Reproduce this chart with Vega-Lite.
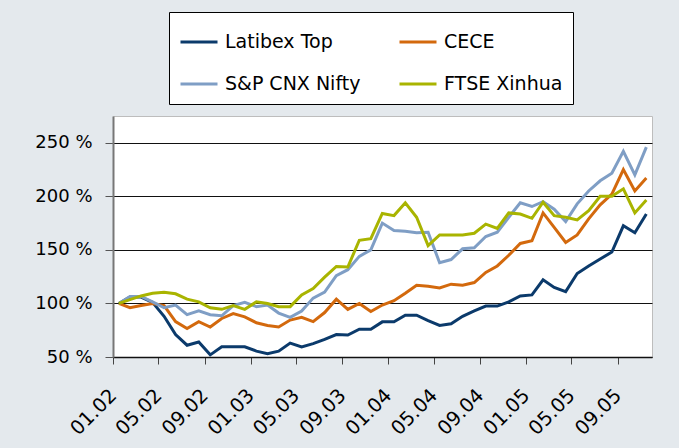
{
  "$schema": "https://vega.github.io/schema/vega-lite/v6.json",
  "width": 539,
  "height": 241,
  "autosize": {"type": "none"},
  "padding": {"left": 113, "top": 116, "right": 27, "bottom": 91},
  "background": "#E4E9ED",
  "config": {
    "view": {"fill": "white", "stroke": "#BDBDBD", "strokeWidth": 1},
    "font": "DejaVu Sans"
  },
  "data": {
    "values": [
      {"m":"2002-01-01","s":"Latibex Top","v":100},{"m":"2002-02-01","s":"Latibex Top","v":106},{"m":"2002-03-01","s":"Latibex Top","v":106},{"m":"2002-04-01","s":"Latibex Top","v":101},{"m":"2002-05-01","s":"Latibex Top","v":88},{"m":"2002-06-01","s":"Latibex Top","v":71},{"m":"2002-07-01","s":"Latibex Top","v":61},{"m":"2002-08-01","s":"Latibex Top","v":64},{"m":"2002-09-01","s":"Latibex Top","v":52},{"m":"2002-10-01","s":"Latibex Top","v":59.5},{"m":"2002-11-01","s":"Latibex Top","v":59.5},{"m":"2002-12-01","s":"Latibex Top","v":59.5},
      {"m":"2003-01-01","s":"Latibex Top","v":55.5},{"m":"2003-02-01","s":"Latibex Top","v":53},{"m":"2003-03-01","s":"Latibex Top","v":55.5},{"m":"2003-04-01","s":"Latibex Top","v":63},{"m":"2003-05-01","s":"Latibex Top","v":59.5},{"m":"2003-06-01","s":"Latibex Top","v":62.5},{"m":"2003-07-01","s":"Latibex Top","v":66.5},{"m":"2003-08-01","s":"Latibex Top","v":71},{"m":"2003-09-01","s":"Latibex Top","v":70.5},{"m":"2003-10-01","s":"Latibex Top","v":76},{"m":"2003-11-01","s":"Latibex Top","v":76},{"m":"2003-12-01","s":"Latibex Top","v":82.8},
      {"m":"2004-01-01","s":"Latibex Top","v":82.8},{"m":"2004-02-01","s":"Latibex Top","v":89},{"m":"2004-03-01","s":"Latibex Top","v":89},{"m":"2004-04-01","s":"Latibex Top","v":84},{"m":"2004-05-01","s":"Latibex Top","v":79.5},{"m":"2004-06-01","s":"Latibex Top","v":81},{"m":"2004-07-01","s":"Latibex Top","v":88},{"m":"2004-08-01","s":"Latibex Top","v":93},{"m":"2004-09-01","s":"Latibex Top","v":97.5},{"m":"2004-10-01","s":"Latibex Top","v":97.5},{"m":"2004-11-01","s":"Latibex Top","v":101.5},{"m":"2004-12-01","s":"Latibex Top","v":107},
      {"m":"2005-01-01","s":"Latibex Top","v":108},{"m":"2005-02-01","s":"Latibex Top","v":122},{"m":"2005-03-01","s":"Latibex Top","v":115},{"m":"2005-04-01","s":"Latibex Top","v":111},{"m":"2005-05-01","s":"Latibex Top","v":128},{"m":"2005-06-01","s":"Latibex Top","v":135},{"m":"2005-07-01","s":"Latibex Top","v":141.5},{"m":"2005-08-01","s":"Latibex Top","v":148},{"m":"2005-09-01","s":"Latibex Top","v":172.5},{"m":"2005-10-01","s":"Latibex Top","v":166},{"m":"2005-11-01","s":"Latibex Top","v":183.5},

      {"m":"2002-01-01","s":"CECE","v":100},{"m":"2002-02-01","s":"CECE","v":96},{"m":"2002-03-01","s":"CECE","v":98},{"m":"2002-04-01","s":"CECE","v":100},{"m":"2002-05-01","s":"CECE","v":98},{"m":"2002-06-01","s":"CECE","v":83},{"m":"2002-07-01","s":"CECE","v":76.5},{"m":"2002-08-01","s":"CECE","v":83},{"m":"2002-09-01","s":"CECE","v":78},{"m":"2002-10-01","s":"CECE","v":86},{"m":"2002-11-01","s":"CECE","v":90.5},{"m":"2002-12-01","s":"CECE","v":87.5},
      {"m":"2003-01-01","s":"CECE","v":82},{"m":"2003-02-01","s":"CECE","v":79.5},{"m":"2003-03-01","s":"CECE","v":78},{"m":"2003-04-01","s":"CECE","v":84.5},{"m":"2003-05-01","s":"CECE","v":87},{"m":"2003-06-01","s":"CECE","v":83},{"m":"2003-07-01","s":"CECE","v":91.5},{"m":"2003-08-01","s":"CECE","v":104},{"m":"2003-09-01","s":"CECE","v":94.5},{"m":"2003-10-01","s":"CECE","v":100},{"m":"2003-11-01","s":"CECE","v":92.5},{"m":"2003-12-01","s":"CECE","v":98.5},
      {"m":"2004-01-01","s":"CECE","v":102.5},{"m":"2004-02-01","s":"CECE","v":109.5},{"m":"2004-03-01","s":"CECE","v":117},{"m":"2004-04-01","s":"CECE","v":116},{"m":"2004-05-01","s":"CECE","v":114.5},{"m":"2004-06-01","s":"CECE","v":118},{"m":"2004-07-01","s":"CECE","v":117},{"m":"2004-08-01","s":"CECE","v":119.5},{"m":"2004-09-01","s":"CECE","v":129},{"m":"2004-10-01","s":"CECE","v":135},{"m":"2004-11-01","s":"CECE","v":145},{"m":"2004-12-01","s":"CECE","v":156},
      {"m":"2005-01-01","s":"CECE","v":158.5},{"m":"2005-02-01","s":"CECE","v":184.5},{"m":"2005-03-01","s":"CECE","v":171},{"m":"2005-04-01","s":"CECE","v":157},{"m":"2005-05-01","s":"CECE","v":164},{"m":"2005-06-01","s":"CECE","v":179},{"m":"2005-07-01","s":"CECE","v":192},{"m":"2005-08-01","s":"CECE","v":202},{"m":"2005-09-01","s":"CECE","v":225},{"m":"2005-10-01","s":"CECE","v":205},{"m":"2005-11-01","s":"CECE","v":217},

      {"m":"2002-01-01","s":"S&P CNX Nifty","v":100},{"m":"2002-02-01","s":"S&P CNX Nifty","v":106.5},{"m":"2002-03-01","s":"S&P CNX Nifty","v":106.5},{"m":"2002-04-01","s":"S&P CNX Nifty","v":101.5},{"m":"2002-05-01","s":"S&P CNX Nifty","v":96},{"m":"2002-06-01","s":"S&P CNX Nifty","v":98.5},{"m":"2002-07-01","s":"S&P CNX Nifty","v":89.5},{"m":"2002-08-01","s":"S&P CNX Nifty","v":93},{"m":"2002-09-01","s":"S&P CNX Nifty","v":89.5},{"m":"2002-10-01","s":"S&P CNX Nifty","v":88.5},{"m":"2002-11-01","s":"S&P CNX Nifty","v":98},{"m":"2002-12-01","s":"S&P CNX Nifty","v":101},
      {"m":"2003-01-01","s":"S&P CNX Nifty","v":97},{"m":"2003-02-01","s":"S&P CNX Nifty","v":98.5},{"m":"2003-03-01","s":"S&P CNX Nifty","v":91},{"m":"2003-04-01","s":"S&P CNX Nifty","v":87},{"m":"2003-05-01","s":"S&P CNX Nifty","v":93},{"m":"2003-06-01","s":"S&P CNX Nifty","v":105},{"m":"2003-07-01","s":"S&P CNX Nifty","v":110.5},{"m":"2003-08-01","s":"S&P CNX Nifty","v":126},{"m":"2003-09-01","s":"S&P CNX Nifty","v":131.5},{"m":"2003-10-01","s":"S&P CNX Nifty","v":144},{"m":"2003-11-01","s":"S&P CNX Nifty","v":150},{"m":"2003-12-01","s":"S&P CNX Nifty","v":175},
      {"m":"2004-01-01","s":"S&P CNX Nifty","v":168},{"m":"2004-02-01","s":"S&P CNX Nifty","v":167.5},{"m":"2004-03-01","s":"S&P CNX Nifty","v":166},{"m":"2004-04-01","s":"S&P CNX Nifty","v":166.5},{"m":"2004-05-01","s":"S&P CNX Nifty","v":138},{"m":"2004-06-01","s":"S&P CNX Nifty","v":141},{"m":"2004-07-01","s":"S&P CNX Nifty","v":151},{"m":"2004-08-01","s":"S&P CNX Nifty","v":152},{"m":"2004-09-01","s":"S&P CNX Nifty","v":162.5},{"m":"2004-10-01","s":"S&P CNX Nifty","v":166.5},{"m":"2004-11-01","s":"S&P CNX Nifty","v":180.5},{"m":"2004-12-01","s":"S&P CNX Nifty","v":194},
      {"m":"2005-01-01","s":"S&P CNX Nifty","v":190.5},{"m":"2005-02-01","s":"S&P CNX Nifty","v":195},{"m":"2005-03-01","s":"S&P CNX Nifty","v":188},{"m":"2005-04-01","s":"S&P CNX Nifty","v":176.5},{"m":"2005-05-01","s":"S&P CNX Nifty","v":193},{"m":"2005-06-01","s":"S&P CNX Nifty","v":205},{"m":"2005-07-01","s":"S&P CNX Nifty","v":214.5},{"m":"2005-08-01","s":"S&P CNX Nifty","v":221.5},{"m":"2005-09-01","s":"S&P CNX Nifty","v":242},{"m":"2005-10-01","s":"S&P CNX Nifty","v":220},{"m":"2005-11-01","s":"S&P CNX Nifty","v":246},

      {"m":"2002-01-01","s":"FTSE Xinhua","v":100},{"m":"2002-02-01","s":"FTSE Xinhua","v":103.5},{"m":"2002-03-01","s":"FTSE Xinhua","v":107},{"m":"2002-04-01","s":"FTSE Xinhua","v":109.5},{"m":"2002-05-01","s":"FTSE Xinhua","v":110.5},{"m":"2002-06-01","s":"FTSE Xinhua","v":109},{"m":"2002-07-01","s":"FTSE Xinhua","v":104},{"m":"2002-08-01","s":"FTSE Xinhua","v":101.5},{"m":"2002-09-01","s":"FTSE Xinhua","v":96},{"m":"2002-10-01","s":"FTSE Xinhua","v":94.5},{"m":"2002-11-01","s":"FTSE Xinhua","v":98},{"m":"2002-12-01","s":"FTSE Xinhua","v":94.5},
      {"m":"2003-01-01","s":"FTSE Xinhua","v":101.5},{"m":"2003-02-01","s":"FTSE Xinhua","v":100},{"m":"2003-03-01","s":"FTSE Xinhua","v":97},{"m":"2003-04-01","s":"FTSE Xinhua","v":97},{"m":"2003-05-01","s":"FTSE Xinhua","v":108},{"m":"2003-06-01","s":"FTSE Xinhua","v":114},{"m":"2003-07-01","s":"FTSE Xinhua","v":124.5},{"m":"2003-08-01","s":"FTSE Xinhua","v":134.5},{"m":"2003-09-01","s":"FTSE Xinhua","v":134},{"m":"2003-10-01","s":"FTSE Xinhua","v":159},{"m":"2003-11-01","s":"FTSE Xinhua","v":160.5},{"m":"2003-12-01","s":"FTSE Xinhua","v":184},
      {"m":"2004-01-01","s":"FTSE Xinhua","v":182},{"m":"2004-02-01","s":"FTSE Xinhua","v":194},{"m":"2004-03-01","s":"FTSE Xinhua","v":180.5},{"m":"2004-04-01","s":"FTSE Xinhua","v":154},{"m":"2004-05-01","s":"FTSE Xinhua","v":164},{"m":"2004-06-01","s":"FTSE Xinhua","v":164},{"m":"2004-07-01","s":"FTSE Xinhua","v":164},{"m":"2004-08-01","s":"FTSE Xinhua","v":165.5},{"m":"2004-09-01","s":"FTSE Xinhua","v":174},{"m":"2004-10-01","s":"FTSE Xinhua","v":170},{"m":"2004-11-01","s":"FTSE Xinhua","v":184.5},{"m":"2004-12-01","s":"FTSE Xinhua","v":183.5},
      {"m":"2005-01-01","s":"FTSE Xinhua","v":179.5},{"m":"2005-02-01","s":"FTSE Xinhua","v":194.5},{"m":"2005-03-01","s":"FTSE Xinhua","v":182},{"m":"2005-04-01","s":"FTSE Xinhua","v":180.5},{"m":"2005-05-01","s":"FTSE Xinhua","v":178},{"m":"2005-06-01","s":"FTSE Xinhua","v":186.5},{"m":"2005-07-01","s":"FTSE Xinhua","v":200},{"m":"2005-08-01","s":"FTSE Xinhua","v":200},{"m":"2005-09-01","s":"FTSE Xinhua","v":207},{"m":"2005-10-01","s":"FTSE Xinhua","v":184.5},{"m":"2005-11-01","s":"FTSE Xinhua","v":196.5}
    ]
  },
  "mark": {"type": "line", "strokeWidth": 3},
  "encoding": {
    "x": {
      "field": "m",
      "type": "temporal",
      "timeUnit": "utcyearmonth",
      "bandPosition": 0.5,
      "scale": {
        "domain": [{"year": 2002, "month": 1, "date": 1, "utc": true}, {"year": 2005, "month": 12, "date": 1, "utc": true}],
        "nice": false
      },
      "axis": {
        "title": null,
        "values": [
          {"year": 2002, "month": 1, "date": 1, "utc": true},
          {"year": 2002, "month": 5, "date": 1, "utc": true},
          {"year": 2002, "month": 9, "date": 1, "utc": true},
          {"year": 2003, "month": 1, "date": 1, "utc": true},
          {"year": 2003, "month": 5, "date": 1, "utc": true},
          {"year": 2003, "month": 9, "date": 1, "utc": true},
          {"year": 2004, "month": 1, "date": 1, "utc": true},
          {"year": 2004, "month": 5, "date": 1, "utc": true},
          {"year": 2004, "month": 9, "date": 1, "utc": true},
          {"year": 2005, "month": 1, "date": 1, "utc": true},
          {"year": 2005, "month": 5, "date": 1, "utc": true},
          {"year": 2005, "month": 9, "date": 1, "utc": true}
        ],
        "labelExpr": "utcFormat(datum.value, '%m.%y')",
        "labelAngle": -45,
        "labelAlign": "right",
        "labelBaseline": "middle",
        "labelPadding": 28,
        "labelFontSize": 19.5,
        "labelColor": "black",
        "labelOverlap": false,
        "labelFlush": false,
        "tickSize": 7,
        "tickColor": "#444444",
        "tickWidth": 1,
        "domainColor": "#111111",
        "domainWidth": 1.5,
        "grid": false
      }
    },
    "y": {
      "field": "v",
      "type": "quantitative",
      "scale": {"domain": [50, 275], "nice": false, "zero": false},
      "axis": {
        "title": null,
        "values": [50, 100, 150, 200, 250],
        "labelExpr": "datum.value + ' %'",
        "grid": true,
        "gridColor": "#111111",
        "gridWidth": 1,
        "tickSize": 8,
        "tickColor": "#555555",
        "domainColor": "#777777",
        "domainWidth": 2,
        "labelPadding": 13,
        "labelFontSize": 18,
        "labelColor": "black"
      }
    },
    "color": {
      "field": "s",
      "type": "nominal",
      "scale": {
        "domain": ["Latibex Top", "CECE", "S&P CNX Nifty", "FTSE Xinhua"],
        "range": ["#0B3A6B", "#D3690D", "#7F9EC5", "#A9B400"]
      },
      "legend": {
        "title": null,
        "orient": "none",
        "direction": "horizontal",
        "legendX": 56,
        "legendY": -104,
        "columns": 2,
        "symbolType": "stroke",
        "symbolSize": 1369,
        "symbolStrokeWidth": 3,
        "labelFontSize": 19,
        "labelColor": "black",
        "labelOffset": 6,
        "labelLimit": 300,
        "columnPadding": 32,
        "rowPadding": 12,
        "padding": 10,
        "strokeColor": "black",
        "fillColor": "white",
        "cornerRadius": 0
      }
    }
  }
}
